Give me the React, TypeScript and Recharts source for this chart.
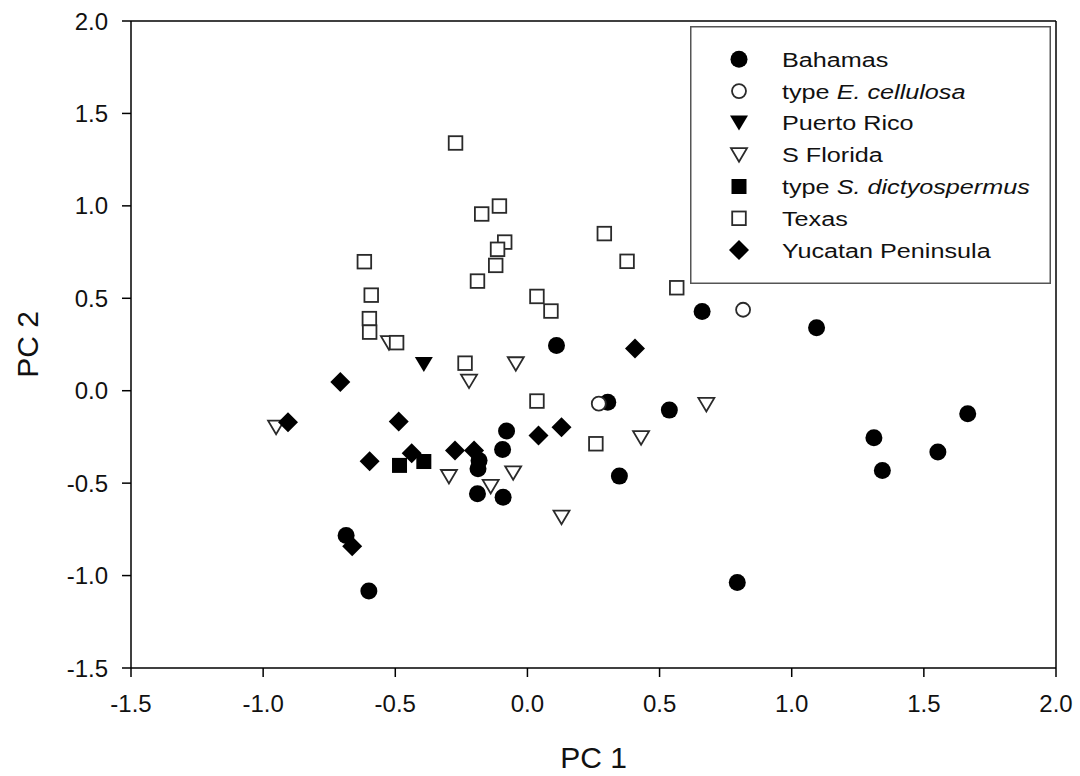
import React from 'react';
import {
  ScatterChart,
  Scatter,
  XAxis,
  YAxis,
  ReferenceLine,
  Legend,
  Label,
} from 'recharts';

const FONT = '"Liberation Sans", Arial, Helvetica, sans-serif';
const INK = '#111';
const OPEN_STROKE = '#2a2a2a';

// PC1 / PC2 scores per locality
const bahamas: [number, number][] = [
  [0.11, 0.245], [0.304, -0.062], [0.537, -0.105], [-0.183, -0.377],
  [-0.187, -0.422], [-0.189, -0.557], [-0.092, -0.576], [-0.094, -0.318],
  [-0.079, -0.218], [0.348, -0.462], [-0.686, -0.783], [-0.6, -1.084],
  [0.661, 0.429], [1.094, 0.341], [1.311, -0.254], [1.666, -0.125],
  [1.553, -0.332], [1.343, -0.431], [0.794, -1.038],
];
const typeCellulosa: [number, number][] = [[0.27, -0.07], [0.816, 0.438]];
const puertoRico: [number, number][] = [[-0.392, 0.142]];
const sFlorida: [number, number][] = [
  [-0.524, 0.26], [-0.044, 0.146], [-0.221, 0.052], [-0.951, -0.197],
  [-0.297, -0.464], [-0.139, -0.518], [-0.054, -0.444], [0.43, -0.254],
  [0.129, -0.684], [0.677, -0.074],
];
const typeDictyospermus: [number, number][] = [[-0.484, -0.404], [-0.392, -0.383]];
const texas: [number, number][] = [
  [-0.272, 1.34], [-0.173, 0.956], [-0.106, 0.999], [-0.086, 0.804],
  [-0.113, 0.765], [-0.12, 0.678], [-0.189, 0.593], [0.291, 0.85],
  [0.377, 0.7], [0.565, 0.557], [-0.617, 0.698], [-0.591, 0.517],
  [-0.598, 0.39], [-0.597, 0.317], [-0.495, 0.26], [0.036, 0.51],
  [0.089, 0.431], [-0.236, 0.149], [0.036, -0.056], [0.259, -0.287],
];
const yucatan: [number, number][] = [
  [0.407, 0.229], [-0.708, 0.047], [-0.487, -0.167], [-0.906, -0.17],
  [-0.597, -0.381], [-0.438, -0.338], [-0.274, -0.323], [-0.202, -0.323],
  [0.042, -0.242], [0.129, -0.197], [-0.663, -0.841],
];

const pc1Ticks = [-1.5, -1.0, -0.5, 0.0, 0.5, 1.0, 1.5, 2.0];
const pc2Ticks = [-1.5, -1.0, -0.5, 0.0, 0.5, 1.0, 1.5, 2.0];

type MarkProps = { cx?: number; cy?: number };

const FilledCircle = ({ cx = 0, cy = 0 }: MarkProps) => (
  <circle cx={cx} cy={cy} r={8.5} fill="#000" />
);
const OpenCircle = ({ cx = 0, cy = 0 }: MarkProps) => (
  <circle cx={cx} cy={cy} r={7} fill="#fff" stroke={OPEN_STROKE} strokeWidth={1.8} />
);
const FilledTriangle = ({ cx = 0, cy = 0 }: MarkProps) => (
  <path d={`M${cx - 9},${cy - 7.5}L${cx + 9},${cy - 7.5}L${cx},${cy + 7.5}Z`} fill="#000" />
);
const OpenTriangle = ({ cx = 0, cy = 0 }: MarkProps) => (
  <path
    d={`M${cx - 8},${cy - 6.5}L${cx + 8},${cy - 6.5}L${cx},${cy + 7}Z`}
    fill="#fff"
    stroke={OPEN_STROKE}
    strokeWidth={1.8}
    strokeLinejoin="miter"
  />
);
const FilledSquare = ({ cx = 0, cy = 0 }: MarkProps) => (
  <rect x={cx - 7.5} y={cy - 7.5} width={15} height={15} fill="#000" />
);
const OpenSquare = ({ cx = 0, cy = 0 }: MarkProps) => (
  <rect x={cx - 6.8} y={cy - 6.8} width={13.6} height={13.6} fill="#fff" stroke={OPEN_STROKE} strokeWidth={1.8} />
);
const Diamond = ({ cx = 0, cy = 0 }: MarkProps) => (
  <path d={`M${cx},${cy - 10}L${cx + 10},${cy}L${cx},${cy + 10}L${cx - 10},${cy}Z`} fill="#000" />
);

const groups = [
  { key: 'bahamas', prefix: 'Bahamas', italic: '', data: bahamas, Mark: FilledCircle },
  { key: 'cellulosa', prefix: 'type ', italic: 'E. cellulosa', data: typeCellulosa, Mark: OpenCircle },
  { key: 'puerto', prefix: 'Puerto Rico', italic: '', data: puertoRico, Mark: FilledTriangle },
  { key: 'florida', prefix: 'S Florida', italic: '', data: sFlorida, Mark: OpenTriangle },
  { key: 'dictyo', prefix: 'type ', italic: 'S. dictyospermus', data: typeDictyospermus, Mark: FilledSquare },
  { key: 'texas', prefix: 'Texas', italic: '', data: texas, Mark: OpenSquare },
  { key: 'yucatan', prefix: 'Yucatan Peninsula', italic: '', data: yucatan, Mark: Diamond },
];

const LEGEND_W = 361;
const LEGEND_H = 258;

const LegendBox = () => (
  <svg width={LEGEND_W} height={LEGEND_H} style={{ display: 'block' }}>
    <rect x={0.75} y={0.75} width={LEGEND_W - 1.5} height={LEGEND_H - 1.5} fill="#fff" stroke="#555" strokeWidth={1.5} />
    {groups.map((g, i) => {
      const cy = 33.3 + i * 31.8;
      const { Mark } = g;
      return (
        <g key={g.key}>
          <Mark cx={49} cy={cy} />
          <text
            transform={`translate(92 ${cy + 7.5}) scale(1.2 1)`}
            fontFamily={FONT}
            fontSize={21}
            fill={INK}
          >
            {g.prefix}
            {g.italic && <tspan fontStyle="italic">{g.italic}</tspan>}
          </text>
        </g>
      );
    })}
  </svg>
);

const YTitle = (props: any) => {
  const vb = props.viewBox || { x: 0, y: 0, height: 0 };
  const x = vb.x + 37.5;
  const y = vb.y + vb.height / 2;
  return (
    <text
      x={x}
      y={y}
      transform={`rotate(-90 ${x} ${y})`}
      textAnchor="middle"
      fontFamily={FONT}
      fontSize={30}
      fill={INK}
    >
      PC 2
    </text>
  );
};

const fmt = (v: number) => v.toFixed(1);

export default function App() {
  return (
    <div style={{ position: 'absolute', left: 0, top: 0, background: '#fff' }}>
      <ScatterChart width={1080} height={776} margin={{ top: 21, right: 24, bottom: 0, left: 0 }}>
        <XAxis
          type="number"
          dataKey="x"
          domain={[-1.5, 2]}
          ticks={pc1Ticks}
          interval={0}
          allowDataOverflow
          tickFormatter={fmt}
          height={108}
          tickSize={9}
          tickMargin={18}
          axisLine={{ stroke: '#000', strokeWidth: 1.5 }}
          tickLine={{ stroke: '#000', strokeWidth: 1.5 }}
          tick={{ fill: INK, fontSize: 24, fontFamily: FONT }}
        >
          <Label
            value="PC 1"
            position="insideBottom"
            offset={8}
            style={{ fontSize: 30, fontFamily: FONT, fill: INK }}
          />
        </XAxis>
        <YAxis
          type="number"
          dataKey="y"
          domain={[-1.5, 2]}
          ticks={pc2Ticks}
          interval={0}
          allowDataOverflow
          tickFormatter={fmt}
          width={131}
          tickSize={9}
          tickMargin={14}
          axisLine={{ stroke: '#000', strokeWidth: 1.5 }}
          tickLine={{ stroke: '#000', strokeWidth: 1.5 }}
          tick={{ fill: INK, fontSize: 24, fontFamily: FONT }}
        >
          <Label content={<YTitle />} />
        </YAxis>
        <ReferenceLine y={2} stroke="#000" strokeWidth={1.5} />
        <ReferenceLine x={2} stroke="#000" strokeWidth={1.5} />
        {groups.map((g) => (
          <Scatter
            key={g.key}
            name={g.prefix + g.italic}
            data={g.data.map(([x, y]) => ({ x, y }))}
            isAnimationActive={false}
            shape={(p: any) => <g.Mark cx={p.cx} cy={p.cy} />}
          />
        ))}
        <Legend
          layout="horizontal"
          verticalAlign="middle"
          align="center"
          wrapperStyle={{ left: 690, top: 26, width: LEGEND_W, height: LEGEND_H }}
          content={() => <LegendBox />}
        />
      </ScatterChart>
    </div>
  );
}
